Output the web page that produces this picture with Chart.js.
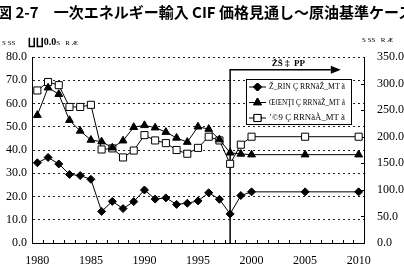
<!DOCTYPE html>
<html>
<head>
<meta charset="utf-8">
<script src="https://cdn.jsdelivr.net/npm/chart.js@4/dist/chart.umd.min.js"></script>
<style>
    body { margin: 0; background: #fff; }
    #wrap { position: relative; width: 404px; height: 267px; overflow: hidden; }
    #title {
        position: absolute; left: -3px; top: 1px; white-space: nowrap;
        font: bold 15px "Noto Sans CJK JP", sans-serif; color: #000;
    }
    .axisTitle { position: absolute; font: 7px "Liberation Serif", serif; color: #000; white-space: pre; }
    .axisTitle b { font: bold 10px "Liberation Serif", serif; }
</style>
</head>
<body>
<div id="wrap">
    <canvas id="cifChart" width="404" height="267"></canvas>
    <div id="title">図 2-7　一次エネルギー輸入 CIF 価格見通し～原油基準ケース</div>
    <div class="axisTitle" style="left:2px; top:36px;">S SS       <b>∐∐0.0</b>S   R Æ</div>
    <div class="axisTitle" style="left:362px; top:36px;">S SS   R Æ</div>
</div>
<script>
// years 1980 - 2010
const years = [];
for (let y = 1980; y <= 2010; y++) years.push(String(y));

// left axis (diamonds, triangles)
const crudeValues = [34.5, 36.8, 34.0, 29.5, 29.0, 27.4, 13.6, 17.9, 14.8, 17.8,
    22.8, 18.9, 19.4, 16.6, 17.1, 18.1, 21.6, 18.8, 12.5, 20.4,
    22.0, null, null, null, null, 22.0, null, null, null, null, 22.0];
const coalValues = [55.0, 66.8, 64.0, 52.8, 48.2, 44.3, 43.6, 41.0, 44.0, 49.8,
    50.6, 49.6, 47.7, 45.2, 43.4, 50.0, 49.0, 44.5, 38.8, 38.3,
    38.0, null, null, null, null, 38.0, null, null, null, null, 38.0];
// right axis (squares)
const lngValues = [287, 303, 297, 256, 256, 260, 176, 178, 161, 174,
    203, 193, 188, 175, 168, 179, 200, 193, 149, 185,
    200, null, null, null, null, 200, null, null, null, null, 200];

const leftTicks = { min: 0, max: 80, step: 10 };
const rightTicks = { min: 0, max: 350, step: 50 };

const legendLabels = ['Ž_RIN Ç RRNãŽ_MT ã', 'ŒŒNŢI Ç RRNãŽ_MT ã', 'ʼ©9 Ç RRNãÀ_MT ã'];
const forecastLabel = 'ŽŠ ‡  PP';
const forecastYear = '1998';

const serif = '"Liberation Serif", serif';

// vertical forecast line with arrow + inward tick marks
const forecastPlugin = {
    id: 'forecast',
    beforeDatasetsDraw(chart) {
        const { ctx, chartArea, scales } = chart;
        const xs = scales.x;
        const step = xs.getPixelForValue(1) - xs.getPixelForValue(0);
        const x = xs.getPixelForValue(years.indexOf(forecastYear));
        const yTop = scales.y.getPixelForValue(74.5);
        const xEnd = xs.getPixelForValue(27) + 0.4 * step;
        ctx.save();
        ctx.strokeStyle = '#000';
        ctx.lineWidth = 1.5;
        ctx.beginPath();
        ctx.moveTo(x, chartArea.bottom);
        ctx.lineTo(x, yTop);
        ctx.lineTo(xEnd, yTop);
        ctx.stroke();
        ctx.fillStyle = '#000';
        ctx.beginPath();
        ctx.moveTo(xEnd, yTop - 4);
        ctx.lineTo(xEnd + 10, yTop);
        ctx.lineTo(xEnd, yTop + 4);
        ctx.closePath();
        ctx.fill();
        ctx.font = 'bold 9px ' + serif;
        ctx.textAlign = 'center';
        ctx.textBaseline = 'bottom';
        ctx.fillText(forecastLabel, (x + xEnd) / 2 + 8, yTop - 2);

        // x tick marks (inward)
        ctx.lineWidth = 1;
        for (let k = 1; k < years.length; k++) {
            const tx = Math.round(xs.getPixelForValue(k) - step / 2) + 0.5;
            ctx.beginPath();
            ctx.moveTo(tx, chartArea.bottom);
            ctx.lineTo(tx, chartArea.bottom - 3);
            ctx.stroke();
        }
        // right axis tick marks (inward)
        for (let v = rightTicks.min + rightTicks.step; v < rightTicks.max; v += rightTicks.step) {
            const ty = Math.round(scales.y2.getPixelForValue(v)) + 0.5;
            ctx.beginPath();
            ctx.moveTo(chartArea.right, ty);
            ctx.lineTo(chartArea.right - 3, ty);
            ctx.stroke();
        }
        ctx.restore();
    }
};

// boxed legend inside the plot
const boxLegendPlugin = {
    id: 'boxLegend',
    afterDatasetsDraw(chart) {
        const { ctx } = chart;
        const bx = 246, by = 79, bw = 105, bh = 45;
        ctx.save();
        ctx.fillStyle = '#fff';
        ctx.fillRect(bx, by, bw, bh);
        ctx.strokeStyle = '#000';
        ctx.lineWidth = 1;
        ctx.strokeRect(bx + 0.5, by + 0.5, bw, bh);
        chart.data.datasets.forEach((ds, i) => {
            const ry = by + 8 + i * 15.5;
            ctx.strokeStyle = '#000';
            ctx.lineWidth = 1;
            ctx.beginPath();
            ctx.moveTo(bx + 3, ry);
            ctx.lineTo(bx + 20, ry);
            ctx.stroke();
            Chart.helpers.drawPoint(ctx, {
                pointStyle: ds.pointStyle,
                radius: ds.pointRadius,
                borderWidth: 1,
                rotation: 0
            }, bx + 11.5, ry);
            ctx.fillStyle = ds.pointBackgroundColor;
            ctx.strokeStyle = '#000';
            ctx.fill();
            ctx.stroke();
            ctx.fillStyle = '#000';
            ctx.font = '9px ' + serif;
            ctx.textAlign = 'left';
            ctx.textBaseline = 'middle';
            ctx.fillText(legendLabels[i], bx + 23, ry, 76);
        });
        ctx.restore();
    }
};

const lineDefaults = {
    borderColor: '#000',
    borderWidth: 1,
    pointBorderColor: '#000',
    pointBorderWidth: 1,
    spanGaps: true,
    tension: 0
};

new Chart(document.getElementById('cifChart'), {
    type: 'line',
    data: {
        labels: years,
        datasets: [
            { ...lineDefaults, data: crudeValues, yAxisID: 'y', pointStyle: 'rectRot', pointRadius: 4, pointBackgroundColor: '#000' },
            { ...lineDefaults, data: coalValues, yAxisID: 'y', pointStyle: 'triangle', pointRadius: 4.5, pointBackgroundColor: '#000' },
            { ...lineDefaults, data: lngValues, yAxisID: 'y2', pointStyle: 'rect', pointRadius: 5, pointBackgroundColor: '#fff' }
        ]
    },
    options: {
        responsive: false,
        devicePixelRatio: 1,
        animation: false,
        layout: { padding: { top: 57, left: 0, right: 0, bottom: 0 } },
        plugins: { legend: { display: false }, tooltip: { enabled: false } },
        scales: {
            x: {
                offset: true,
                grid: { display: false },
                border: { display: true, color: '#000', width: 1 },
                ticks: {
                    autoSkip: false,
                    maxRotation: 0,
                    padding: 3,
                    color: '#000',
                    font: { family: serif, size: 12 },
                    callback: (v, i) => (Number(years[i]) % 5 === 0 ? years[i] : null)
                },
                afterFit: s => { s.height = 24; }
            },
            y: {
                position: 'left',
                min: leftTicks.min,
                max: leftTicks.max,
                grid: { color: '#222', lineWidth: 1, drawTicks: false },
                border: { display: true, color: '#000', width: 1, dash: [2, 3] },
                ticks: {
                    stepSize: leftTicks.step,
                    padding: 5,
                    color: '#000',
                    font: { family: serif, size: 12 },
                    callback: v => v.toFixed(1)
                },
                afterFit: s => { s.width = 32; }
            },
            y2: {
                position: 'right',
                min: rightTicks.min,
                max: rightTicks.max,
                grid: { display: false },
                border: { display: true, color: '#000', width: 1 },
                ticks: {
                    stepSize: rightTicks.step,
                    padding: 5,
                    color: '#000',
                    font: { family: serif, size: 12 },
                    callback: v => v.toFixed(1)
                },
                afterFit: s => { s.width = 40; }
            }
        }
    },
    plugins: [forecastPlugin, boxLegendPlugin]
});
</script>
</body>
</html>
